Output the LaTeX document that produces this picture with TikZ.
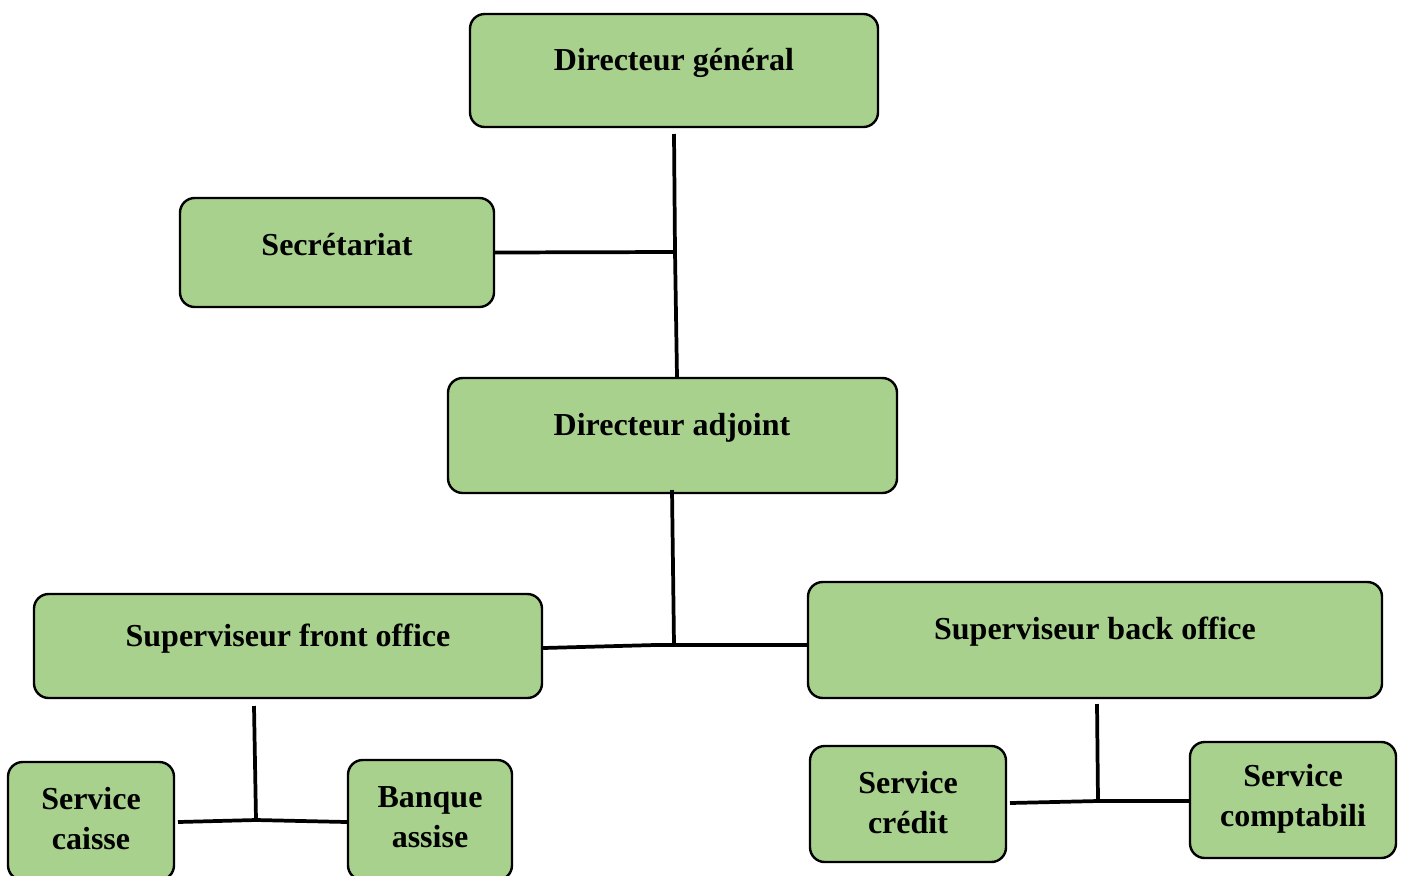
\documentclass[tikz,border=0pt]{standalone}
\usepackage{fontspec}
\setmainfont{Liberation Serif}
\usetikzlibrary{calc}
\definecolor{boxgreen}{HTML}{A9D18E}
\tikzset{
  orgbox/.style={draw=black, line width=1.8pt, fill=boxgreen, rounded corners=11pt, inner sep=0pt},
  lbl/.style={font=\fontsize{24}{30}\selectfont\bfseries, align=center, inner sep=0pt},
  conn/.style={draw=black, line width=2.8pt}
}
\begin{document}
\begin{tikzpicture}[x=0.75pt,y=-0.75pt]
\useasboundingbox (0,0) rectangle (1405,875);
\clip (0,0) rectangle (1405,875);
% boxes
\node[orgbox, minimum width=408*0.75pt, minimum height=113*0.75pt] (dg) at (674,70.5) {};
\node[orgbox, minimum width=314*0.75pt, minimum height=109*0.75pt] (sec) at (337,252.5) {};
\node[orgbox, minimum width=449*0.75pt, minimum height=115*0.75pt] (da) at (672.5,435.5) {};
\node[orgbox, minimum width=508*0.75pt, minimum height=104*0.75pt] (front) at (288,646) {};
\node[orgbox, minimum width=574*0.75pt, minimum height=116*0.75pt] (back) at (1095,640) {};
\node[orgbox, minimum width=166*0.75pt, minimum height=118*0.75pt] (caisse) at (91,821) {};
\node[orgbox, minimum width=164*0.75pt, minimum height=120*0.75pt] (banque) at (430,820) {};
\node[orgbox, minimum width=196*0.75pt, minimum height=116*0.75pt] (credit) at (908,804) {};
\node[orgbox, minimum width=206*0.75pt, minimum height=116*0.75pt] (compt) at (1293,800) {};
% labels
\node[lbl] (ldg) at (674,63) {Directeur général};
\node[lbl] (lsec) at (337,245) {Secrétariat};
\node[lbl] (lda) at (672,428) {Directeur adjoint};
\node[lbl] (lfront) at (288,639) {Superviseur front office};
\node[lbl] (lback) at (1095,632) {Superviseur back office};
\node[lbl] (lcaisse) at (91,819) {Service\\caisse};
\node[lbl] (lbanque) at (430,817) {Banque\\assise};
\node[lbl] (lcredit) at (908,803) {Service\\crédit};
\node[lbl] (lcompt) at (1293,799) {Service\\comptabili};
% connectors
\coordinate (t1) at (674,134);
\coordinate (j1) at (675,252);
\coordinate (b1) at (677,377);
\draw[conn] (t1) -- (j1) -- (b1);
\draw[conn] (sec.east) -- (j1);
\coordinate (t2) at (672,490);
\coordinate (j2) at (674,645);
\coordinate (m2) at (655,645);
\draw[conn] (t2) -- (j2);
\draw[conn] (front.east |- 0,648) -- (m2) -- (back.west |- j2);
\coordinate (t3) at (254,706);
\coordinate (j3) at (256,820);
\draw[conn] (t3) -- (j3);
\draw[conn] (178,822) -- (j3) -- (banque.west |- 0,822);
\coordinate (t4) at (1097,704);
\coordinate (j4) at (1098,801);
\draw[conn] (t4) -- (j4);
\draw[conn] (1010,803) -- (j4) -- (compt.west |- j4);
\end{tikzpicture}
\end{document}
